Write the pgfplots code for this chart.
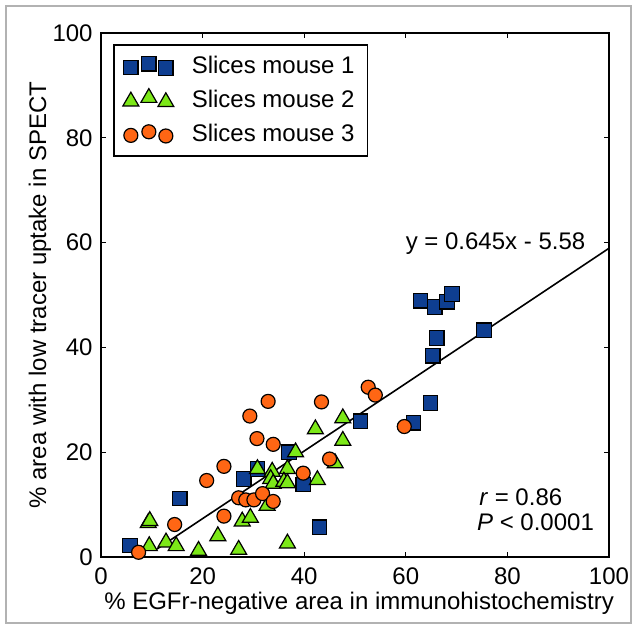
\documentclass[border=0pt]{standalone}
\usepackage{fontspec}
\setmainfont{Liberation Sans}
\usepackage{pgfplots}
\pgfplotsset{compat=1.18}

\definecolor{mouseA}{RGB}{14,62,145}
\definecolor{mouseB}{RGB}{124,232,24}
\definecolor{mouseC}{RGB}{255,102,20}

\begin{document}
\fontsize{12}{14}\selectfont
\begin{tikzpicture}
\useasboundingbox (-50.5pt,-36pt) rectangle (268pt,278.5pt);
\draw[gray!60, line width=0.6pt] (-47.5pt,-33pt) rectangle (265pt,275.5pt);
\begin{axis}[
  at={(0pt,0pt)}, anchor=south west,
  scale only axis, width=254pt, height=262pt,
  xmin=0, xmax=100, ymin=0, ymax=100,
  xtick={0,20,...,100}, ytick={0,20,...,100},
  tick align=inside, major tick length=2.5pt,
  axis line style={line width=0.9pt},
  every tick/.style={black, line width=0.6pt},
  /pgf/number format/assume math mode=true,
  tick label style={font=\fontsize{12}{14}\selectfont},
  xticklabel style={yshift=-1pt},
  xlabel={\% EGFr-negative area in immunohistochemistry},
  ylabel={\% area with low tracer uptake in SPECT},
  label style={font=\fontsize{12}{14}\selectfont},
  xlabel style={at={(axis description cs:0.508,-0.0878)}, anchor=center},
  ylabel style={at={(axis description cs:-0.120,0.5)}, anchor=center, rotate=0},
  clip=false,
  legend style={at={(axis description cs:0.0236,0.979)}, anchor=north west,
    draw=black, line width=0.9pt, font=\fontsize{12}{14}\selectfont,
    inner xsep=4.5pt, inner ysep=3.5pt, row sep=2.5pt,
    /tikz/every odd column/.append style={column sep=7pt}},
  legend cell align=left,
  legend image code/.code={%
    \draw[only marks] plot coordinates {(0pt,-0.5pt) (9pt,1.3pt) (17.5pt,-0.8pt)};
  },
]

\addplot[only marks, mark=square*, mark size=3.6pt,
  mark options={fill=mouseA, draw=black, line width=0.6pt}] coordinates {
  (5.7,2.2) (15.5,11.2) (28.1,14.9) (30.8,16.8) (37,20) (39.8,13.8) (43,5.7)
  (51.1,25.9) (61.5,25.6) (64.9,29.4) (65.3,38.4) (66.1,41.8) (62.9,48.9)
  (65.7,47.7) (68.1,48.7) (69.1,50.2) (75.4,43.3)
};
\addlegendentry{Slices mouse 1\hspace{2pt}}

\addplot[only marks, mark=triangle*, mark size=4.6pt,
  mark options={fill=mouseB, draw=black, line width=0.6pt}] coordinates {
  (9.3,6.5) (9.6,6.9) (9.5,2.1) (12.8,2.8) (14.8,2.1) (19.2,1.2) (23,4.0)
  (27.1,1.4) (27.8,6.8) (29.4,7.5) (30.8,16.8) (33.7,16.3) (33.4,14.9)
  (33.9,14.0) (32.7,9.8) (36.7,16.8) (36,14.4) (36.7,14.1) (36.7,2.6)
  (38.3,20) (42.2,24.4) (42.6,14.7) (46.1,17.9) (47.6,26.5) (47.6,22.2)
};
\addlegendentry{Slices mouse 2\hspace{2pt}}

\addplot[only marks, mark=*, mark size=3.5pt,
  mark options={fill=mouseC, draw=black, line width=0.6pt}] coordinates {
  (7.4,0.9) (14.5,6.2) (20.8,14.6) (24.2,17.3) (24.2,7.8) (27.1,11.3)
  (28.5,10.9) (30.1,10.9) (31.8,12.1) (33.9,10.6) (30.7,22.6) (33.9,21.5)
  (29.3,26.9) (32.9,29.7) (43.4,29.6) (39.8,16) (45,18.7) (52.6,32.4)
  (54,30.9) (59.7,24.9)
};
\addlegendentry{Slices mouse 3\hspace{2pt}}

\addplot[black, line width=0.8pt, forget plot] coordinates {(11,1.52) (100,58.92)};

\node[anchor=base] at (axis cs:77.66,58.6) {y = 0.645x - 5.58};
\node[anchor=base west, inner sep=0pt] at (axis cs:74.4,9.9) {\textit{r} = 0.86};
\node[anchor=base west, inner sep=0pt] at (axis cs:73.96,5.0) {\textit{P} < 0.0001};
\end{axis}
\end{tikzpicture}
\end{document}
